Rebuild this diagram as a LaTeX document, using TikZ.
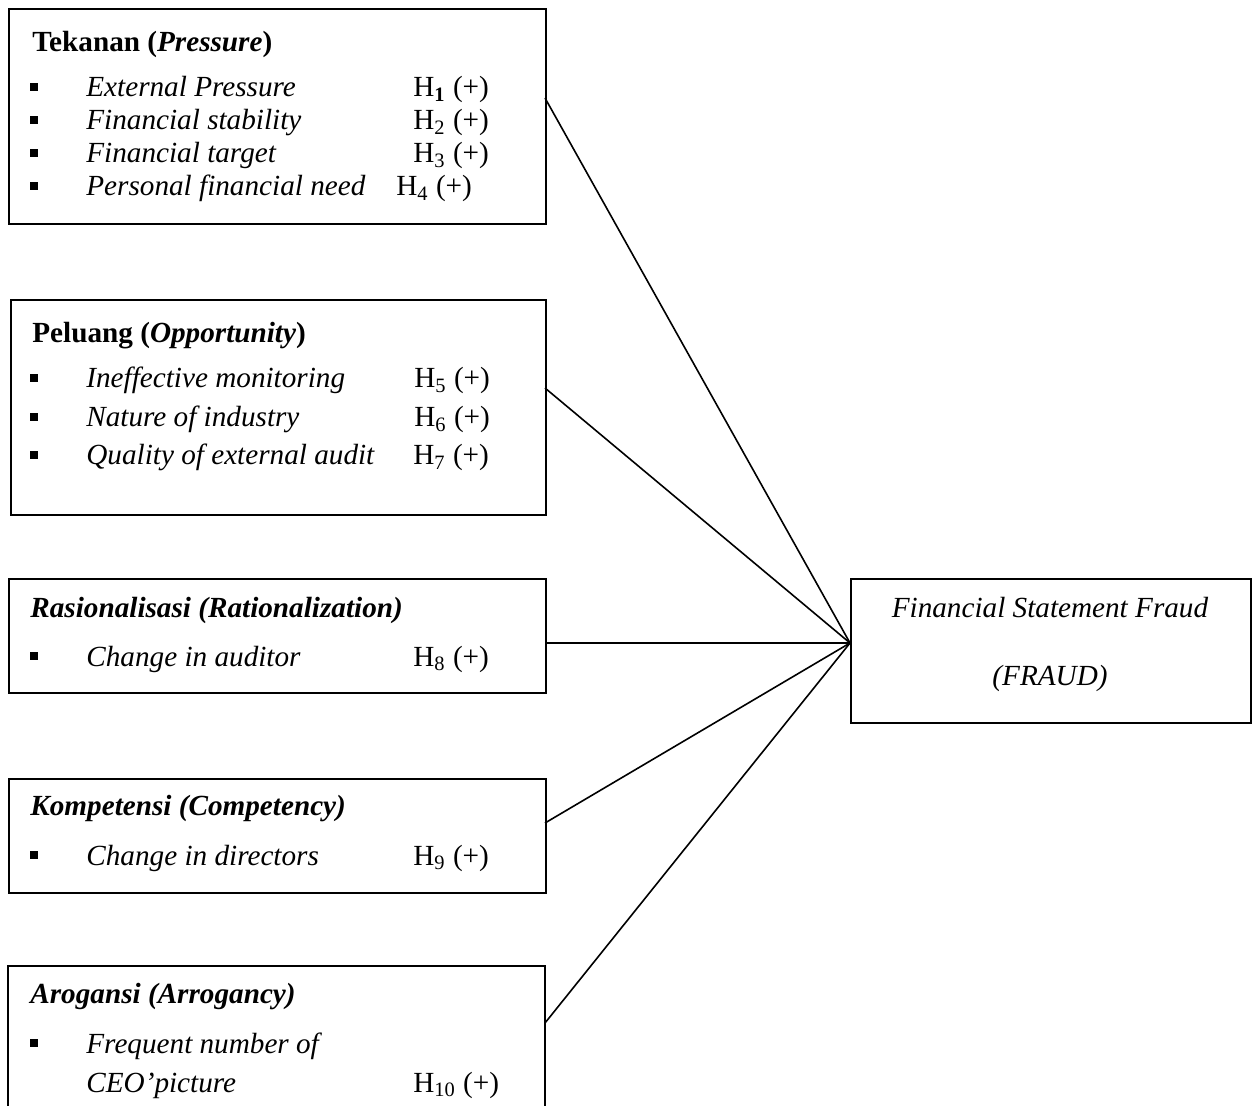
\documentclass[tikz,border=0pt]{standalone}
\usepackage{fontspec}
\setmainfont{Liberation Serif}
\usetikzlibrary{positioning}
\tikzstyle{box} = [draw, line width=0.8pt, inner sep=0pt, anchor=north west]
\tikzstyle{link} = [line width=0.8pt]
\tikzstyle{txt} = [anchor=base west, inner sep=0pt, font=\fontsize{14.6}{17}\selectfont]
\tikzstyle{ctxt} = [anchor=base, inner sep=0pt, font=\fontsize{14.6}{17}\selectfont]
\tikzstyle{dot} = [fill=black, inner sep=0pt, minimum size=3.9pt]

\begin{document}
\begin{tikzpicture}[x=0.5pt,y=-0.5pt]
\useasboundingbox (0,0) rectangle (1257,1106);
% frames
\node[box, minimum width=268.5pt, minimum height=107.5pt] (b1) at (8,8) {};
\node[box, minimum width=267.5pt, minimum height=107.5pt] (b2) at (10,299) {};
\node[box, minimum width=268.5pt, minimum height=57pt] (b3) at (8,578) {};
\node[box, minimum width=268.5pt, minimum height=57pt] (b4) at (8,778) {};
\coordinate (b5sw) at (8,1106);
\coordinate (b5nw) at (8,966);
\coordinate (b5ne) at (545,966);
\coordinate (b5se) at (545,1106);
\draw[link] (b5sw) -- (b5nw) -- (b5ne) -- (b5se);
\node[box, minimum width=200pt, minimum height=72pt] (fraud) at (850,578) {};

% Tekanan
\node[txt] (t1) at (32,52) {\textbf{Tekanan (\textit{Pressure})}};
\node[dot] (d11) at (34,87) {};
\node[txt] (i11) at (86,97) {\textit{External Pressure}};
\node[txt] (h11) at (413,97) {H\textsubscript{\textbf{1}} (+)};
\node[dot] (d12) at (34,120) {};
\node[txt] (i12) at (86,130) {\textit{Financial stability}};
\node[txt] (h12) at (413,130) {H\textsubscript{2} (+)};
\node[dot] (d13) at (34,153) {};
\node[txt] (i13) at (86,163) {\textit{Financial target}};
\node[txt] (h13) at (413,163) {H\textsubscript{3} (+)};
\node[dot] (d14) at (34,186) {};
\node[txt] (i14) at (86,196) {\textit{Personal financial need}};
\node[txt] (h14) at (396,196) {H\textsubscript{4} (+)};

% Peluang
\node[txt] (t2) at (32,343) {\textbf{Peluang (\textit{Opportunity})}};
\node[dot] (d21) at (34,378) {};
\node[txt] (i21) at (86,388) {\textit{Ineffective monitoring}};
\node[txt] (h21) at (414,388) {H\textsubscript{5} (+)};
\node[dot] (d22) at (34,417) {};
\node[txt] (i22) at (86,427) {\textit{Nature of industry}};
\node[txt] (h22) at (414,427) {H\textsubscript{6} (+)};
\node[dot] (d23) at (34,455) {};
\node[txt] (i23) at (86,465) {\textit{Quality of external audit}};
\node[txt] (h23) at (413,465) {H\textsubscript{7} (+)};

% Rasionalisasi
\node[txt] (t3) at (30,617) {\textbf{\textit{Rasionalisasi (Rationalization)}}};
\node[dot] (d31) at (34,656) {};
\node[txt] (i31) at (86,666) {\textit{Change in auditor}};
\node[txt] (h31) at (413,666) {H\textsubscript{8} (+)};

% Kompetensi
\node[txt] (t4) at (30,815) {\textbf{\textit{Kompetensi (Competency)}}};
\node[dot] (d41) at (34,855) {};
\node[txt] (i41) at (86,865) {\textit{Change in directors}};
\node[txt] (h41) at (413,865) {H\textsubscript{9} (+)};

% Arogansi
\node[txt] (t5) at (30,1003) {\textbf{\textit{Arogansi (Arrogancy)}}};
\node[dot] (d51) at (34,1043) {};
\node[txt] (i51) at (86,1053) {\textit{Frequent number of}};
\node[txt] (i52) at (86,1092) {\textit{CEO’picture}};
\node[txt] (h51) at (413,1092) {H\textsubscript{10} (+)};

% Fraud
\node[ctxt] (f1) at (1050,617) {\textit{Financial Statement Fraud}};
\node[ctxt] (f2) at (1050,685) {\textit{(FRAUD)}};

% links
\coordinate (hub) at (850,643);
\coordinate (c1) at (545,98);
\coordinate (c2) at (545,388);
\coordinate (c3) at (545,643);
\coordinate (c4) at (545,823);
\coordinate (c5) at (545,1023);
\draw[link] (c1) -- (hub);
\draw[link] (c2) -- (hub);
\draw[link] (c3) -- (hub);
\draw[link] (c4) -- (hub);
\draw[link] (c5) -- (hub);
\end{tikzpicture}
\end{document}
